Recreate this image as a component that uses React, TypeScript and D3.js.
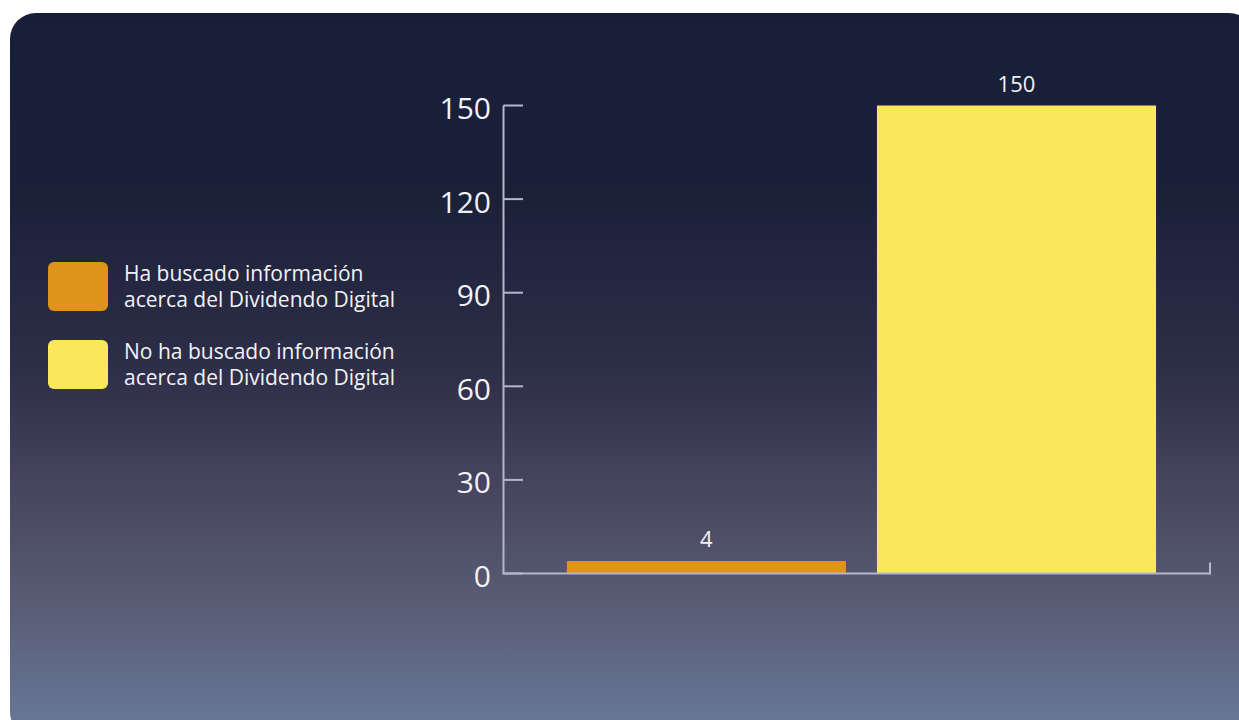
import React from "react";
import * as d3 from "d3";

const categories = [
  "Ha buscado información acerca del Dividendo Digital",
  "No ha buscado información acerca del Dividendo Digital",
];
const values = [4, 150];
const yTicks = [0, 30, 60, 90, 120, 150];
const legendLines = [
  ["Ha buscado información", "acerca del Dividendo Digital"],
  ["No ha buscado información", "acerca del Dividendo Digital"],
];
const barColors = ["#e0931a", "#fbe85a"];

const W = 1239;
const H = 720;
const FONT = "'Open Sans', 'Noto Sans', sans-serif";
const AXIS = "#b4b6cc";
const TEXT = "#f2f2f6";

export default function App() {
  const y = d3.scaleLinear().domain([0, 150]).range([573.5, 105.5]);
  const x = d3
    .scaleBand<string>()
    .domain(categories)
    .range([503, 1210])
    .paddingInner(0.1)
    .paddingOuter(0.19)
    .align(0.542);

  return (
    <div style={{ position: "absolute", left: 0, top: 0 }}>
      <svg width={W} height={H} style={{ display: "block" }}>
        <defs>
          <linearGradient id="bg" x1="0" y1="0" x2="0" y2="1">
            <stop offset="0" stopColor="#171f38" />
            <stop offset="0.25" stopColor="#1b2039" />
            <stop offset="0.5" stopColor="#2e2f49" />
            <stop offset="0.64" stopColor="#45435d" />
            <stop offset="0.8" stopColor="#575a72" />
            <stop offset="1" stopColor="#697a9b" />
          </linearGradient>
        </defs>
        <rect x={10} y={13} width={1245} height={725} rx={26} ry={26} fill="url(#bg)" />

        {/* legend */}
        {legendLines.map((lines, i) => (
          <g key={i} transform={`translate(0, ${i * 78})`}>
            <rect x={48} y={262} width={60} height={49} rx={6} fill={barColors[i]} />
            {lines.map((t, j) => (
              <text key={j} x={124} y={281 + j * 26} fill={TEXT} fontFamily={FONT} fontSize={21}>
                {t}
              </text>
            ))}
          </g>
        ))}

        {/* bars */}
        {categories.map((c, i) => (
          <g key={c}>
            <rect
              x={x(c)}
              y={y(values[i])}
              width={x.bandwidth()}
              height={y(0) - y(values[i])}
              fill={barColors[i]}
            />
            <text
              x={(x(c) as number) + x.bandwidth() / 2}
              y={y(values[i]) - 14}
              textAnchor="middle"
              fill={TEXT}
              fontFamily={FONT}
              fontSize={22}
            >
              {values[i]}
            </text>
          </g>
        ))}

        {/* y axis */}
        <line x1={503.5} x2={503.5} y1={y(150)} y2={y(0)} stroke={AXIS} strokeWidth={2} />
        {yTicks.map((t) => (
          <g key={t}>
            <line x1={503.5} x2={523} y1={y(t)} y2={y(t)} stroke={AXIS} strokeWidth={2} />
            <text
              x={491}
              y={y(t) + 13.5}
              textAnchor="end"
              fill={TEXT}
              fontFamily={FONT}
              fontSize={30}
            >
              {t}
            </text>
          </g>
        ))}

        {/* x axis */}
        <line x1={502.5} x2={1210.5} y1={y(0)} y2={y(0)} stroke={AXIS} strokeWidth={2} />
        <line x1={1210} x2={1210} y1={y(0) + 1} y2={y(0) - 11} stroke={AXIS} strokeWidth={2} />
      </svg>
    </div>
  );
}
